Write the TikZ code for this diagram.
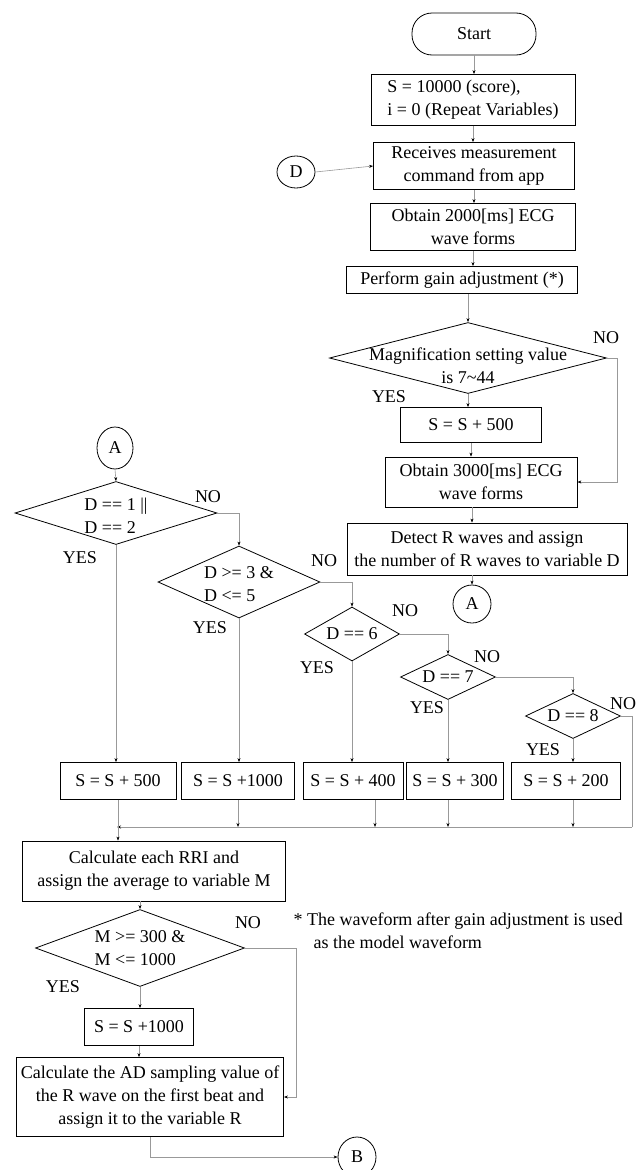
\documentclass[tikz,border=0pt]{standalone}
\usepackage{fontspec}
\setmainfont{Liberation Serif}
\usetikzlibrary{shapes.geometric, positioning, arrows.meta}
\tikzset{every node/.style={font=\fontsize{18}{23}\selectfont},
         box/.style={draw, line width=0.8pt, inner sep=1pt, align=center},
         decision/.style={draw, diamond, line width=0.8pt, inner sep=0pt},
         joint/.style={draw, ellipse, line width=0.8pt, inner sep=0pt},
         flow/.style={draw=gray!80, line width=0.6pt, -{Stealth[length=4pt,width=3pt,black]}},
         wire/.style={draw=gray!80, line width=0.6pt},
         answer/.style={inner sep=0pt},
        }

\begin{document}
\begin{tikzpicture}[x=1pt,y=-1pt]
        \useasboundingbox (0,0) rectangle (641,1170);
        % main column
        \node[box, rounded corners=20pt, minimum width=124pt, minimum height=42pt](start)at(474,34){Start};
        \node[box, minimum width=204pt, minimum height=51pt, align=left](init)at(473,100){S = 10000 (score),\\i = 0 (Repeat Variables)};
        \node[joint, minimum width=38pt, minimum height=32pt](dlink)at(296,172){D};
        \node[box, minimum width=201pt, minimum height=47pt](recv)at(474,166){Receives measurement\\command from app};
        \node[box, minimum width=205pt, minimum height=47pt](get2k)at(473,227){Obtain 2000[ms] ECG\\wave forms};
        \node[box, minimum width=231pt, minimum height=27pt](gain)at(462,280){Perform gain adjustment (*)};
        \node[decision, minimum width=277pt, minimum height=71pt,
              label={[align=center, yshift=-8pt]center:Magnification setting value\\is 7\textasciitilde44}](mag)at(468,358){};
        \node[box, minimum width=141pt, minimum height=35pt](add500a)at(471,425){S = S + 500};
        \node[box, minimum width=192pt, minimum height=50pt](get3k)at(481,482){Obtain 3000[ms] ECG\\wave forms};
        \node[box, minimum width=280pt, minimum height=52pt](detect)at(487,549){Detect R waves and assign\\the number of R waves to variable D};
        \node[joint, minimum width=38pt, minimum height=38pt](alinkR)at(472,604){A};

        % case split on D
        \node[joint, minimum width=36pt, minimum height=42pt](alinkL)at(115,448){A};
        \node[decision, minimum width=202pt, minimum height=63pt,
              label={[align=left, yshift=-3pt]center:D == 1 ||\\D == 2}](dcase1)at(116,513){};
        \node[decision, minimum width=162pt, minimum height=72pt,
              label={[align=left, yshift=-2pt]center:D >= 3 \&\\D <= 5}](dcase2)at(239,582){};
        \node[decision, minimum width=95pt, minimum height=54pt, label={center:D == 6}](dcase3)at(352,634){};
        \node[decision, minimum width=95pt, minimum height=45pt, label={center:D == 7}](dcase4)at(448,677){};
        \node[decision, minimum width=95pt, minimum height=45pt, label={center:D == 8}](dcase5)at(573,716){};

        \node[box, minimum width=116pt, minimum height=37pt](add500)at(118,781){S = S + 500};
        \node[box, minimum width=113pt, minimum height=37pt](add1000)at(238,781){S = S +1000};
        \node[box, minimum width=100pt, minimum height=37pt](add400)at(353,781){S = S + 400};
        \node[box, minimum width=97pt, minimum height=37pt](add300)at(455,781){S = S + 300};
        \node[box, minimum width=109pt, minimum height=37pt](add200)at(566,781){S = S + 200};
        \coordinate(joinL)at(117,827);
        \coordinate(joinR)at(632,827);

        % RRI part
        \node[box, minimum width=263pt, minimum height=60pt](rri)at(154,871){Calculate each RRI and\\assign the average to variable M};
        \node[decision, minimum width=209pt, minimum height=77pt,
              label={[align=left]center:M >= 300 \&\\M <= 1000}](mcheck)at(140,948){};
        \node[box, minimum width=109pt, minimum height=37pt](add1000b)at(139,1027){S = S +1000};
        \node[box, minimum width=267pt, minimum height=79pt](adval)at(150,1097){Calculate the AD sampling value of\\the R wave on the first beat and\\assign it to the variable R};
        \node[joint, minimum width=38pt, minimum height=40pt](blink)at(357,1157){B};
        \node[anchor=west, align=left](note)at(290,931){* The waveform after gain adjustment is used\\\hspace*{20pt}as the model waveform};

        \node[answer](no0)at(606,338){NO};
        \node[answer](yes0)at(389,397){YES};
        \node[answer](no1)at(208,497){NO};
        \node[answer](yes1)at(80,558){YES};
        \node[answer](no2)at(324,561){NO};
        \node[answer](yes2)at(210,628){YES};
        \node[answer](no3)at(405,611){NO};
        \node[answer](yes3)at(317,668){YES};
        \node[answer](no4)at(487,657){NO};
        \node[answer](yes4)at(427,708){YES};
        \node[answer](no5)at(623,704){NO};
        \node[answer](yes5)at(543,750){YES};
        \node[answer](no6)at(248,923){NO};
        \node[answer](yes6)at(63,987){YES};

        \draw[flow](start.south)--(start.south|-init.north);
        \draw[flow](init.south)--(init.south|-recv.north);
        \draw[flow](dlink.east)--(recv.west);
        \draw[flow](recv.south)--(recv.south|-get2k.north);
        \draw[flow](get2k.south)--(get2k.south|-gain.north);
        \draw[flow](mag.north|-gain.south)--(mag.north);
        \draw[flow](mag.south)--(mag.south|-add500a.north);
        \draw[flow](add500a.south)--(add500a.south|-get3k.north);
        \draw[flow](mag.east)--++(10,0)|-(get3k.east);
        \draw[flow](alinkR|-get3k.south)--(alinkR|-detect.north);
        \draw[flow](alinkR|-detect.south)--(alinkR.north);

        \draw[flow](alinkL.south)--(dcase1.north);
        \draw[flow](dcase1.east)-|(dcase2.north);
        \draw[flow](dcase2.east)-|(dcase3.north);
        \draw[flow](dcase3.east)-|(dcase4.north);
        \draw[flow](dcase4.east)-|(dcase5.north);
        \draw[flow](dcase1.south)--(dcase1.south|-add500.north);
        \draw[flow](dcase2.south)--(dcase2.south|-add1000.north);
        \draw[flow](dcase3.south)--(dcase3.south|-add400.north);
        \draw[flow](dcase4.south)--(dcase4.south|-add300.north);
        \draw[flow](dcase5.south)--(dcase5.south|-add200.north);
        \draw[wire](dcase5.east)-|(joinR);
        \draw[flow](joinR)--(joinL);
        \draw[flow](add1000.south)--(add1000.south|-joinL);
        \draw[flow]([xshift=22pt]add400.south)--([xshift=22pt]add400.south|-joinL);
        \draw[flow](dcase4.south|-add300.south)--(dcase4.south|-joinL);
        \draw[flow](dcase5.south|-add200.south)--(dcase5.south|-joinL);
        \draw[flow](add500.south)--(add500.south|-rri.north);

        \draw[flow](mcheck.north|-rri.south)--(mcheck.north);
        \draw[flow](mcheck.south)--(mcheck.south|-add1000b.north);
        \draw[flow](add1000b.south)--(add1000b.south|-adval.north);
        \draw[flow](mcheck.east)--++(51,0)|-(adval.east);
        \draw[flow](adval.south)|-(blink.west);
\end{tikzpicture}
\end{document}
